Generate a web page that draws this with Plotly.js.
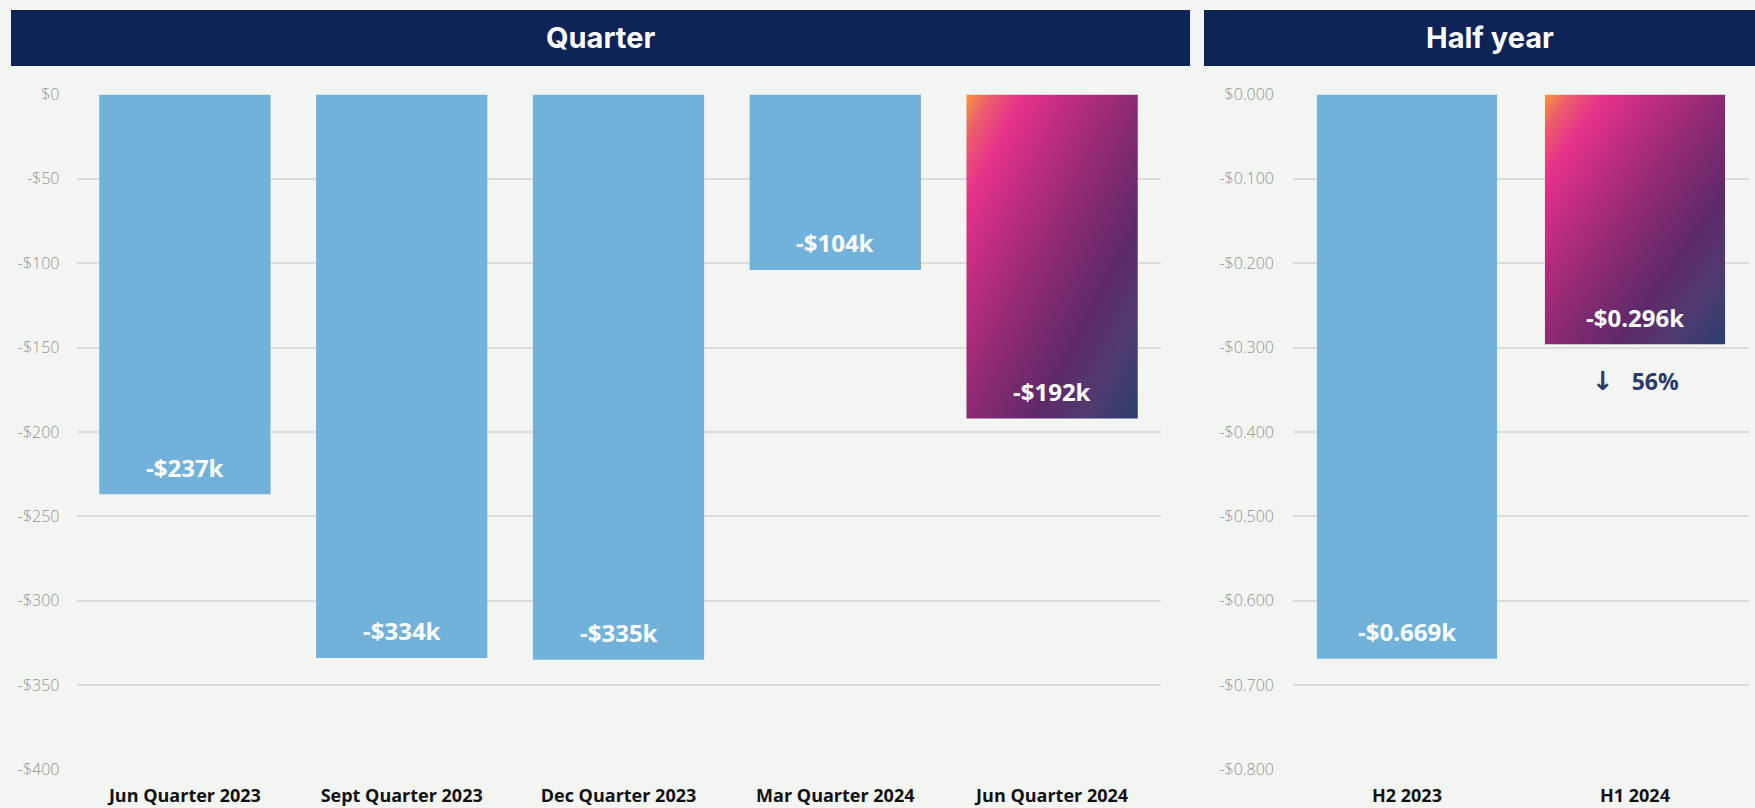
<!DOCTYPE html>
<html>
<head>
<meta charset="utf-8">
<script src="https://cdn.plot.ly/plotly-3.0.1.min.js"></script>
<style>
  html, body { margin: 0; padding: 0; background: #F3F5F2; }
  #chart { width: 1755px; height: 808px; }
</style>
</head>
<body>
<div id="chart"></div>
<script>
// ---- data ----
const quarterCategories = ["Jun Quarter 2023", "Sept Quarter 2023", "Dec Quarter 2023", "Mar Quarter 2024", "Jun Quarter 2024"];
const quarterValues = [-237, -334, -335, -104, -192];
const quarterTickVals = [0, -50, -100, -150, -200, -250, -300, -350, -400];
const quarterTickText = ["$0", "-$50", "-$100", "-$150", "-$200", "-$250", "-$300", "-$350", "-$400"];

const halfCategories = ["H2 2023", "H1 2024"];
const halfValues = [-0.669, -0.296];
const halfTickVals = [0, -0.1, -0.2, -0.3, -0.4, -0.5, -0.6, -0.7, -0.8];
const halfTickText = ["$0.000", "-$0.100", "-$0.200", "-$0.300", "-$0.400", "-$0.500", "-$0.600", "-$0.700", "-$0.800"];
const halfChangeText = "56%";

// ---- styling ----
const W = 1755, H = 808;
const BG = "#F3F5F2";
const BLUE = "#72B2DA";
const NAVY = "#0E2356";
const GRID = "#DCDCDC";

const qLabels = quarterValues.map(v => "-$" + Math.abs(v) + "k");
const hLabels = halfValues.map(v => "-$" + Math.abs(v).toFixed(3) + "k");

const yDomain = [1 - 769.3 / H, 1 - 94.5 / H];

const traces = [
  {
    type: "bar", x: quarterCategories, y: quarterValues, xaxis: "x", yaxis: "y",
    marker: { color: quarterValues.map((v, i) => i === quarterValues.length - 1 ? "#B02B7C" : BLUE), line: { width: 0 } },
    hoverinfo: "skip"
  },
  {
    type: "bar", x: halfCategories, y: halfValues, xaxis: "x2", yaxis: "y2",
    marker: { color: halfValues.map((v, i) => i === halfValues.length - 1 ? "#B02B7C" : BLUE), line: { width: 0 } },
    hoverinfo: "skip"
  }
];

const labelFont = { family: "Open Sans", size: 24, color: "#FFFFFF", weight: 700 };
const annotations = [];
quarterCategories.forEach((c, i) => {
  annotations.push({ xref: "x", yref: "y", x: c, y: quarterValues[i], yshift: 27, text: qLabels[i],
    showarrow: false, font: labelFont });
});
halfCategories.forEach((c, i) => {
  annotations.push({ xref: "x2", yref: "y2", x: c, y: halfValues[i], yshift: 27, text: hLabels[i],
    showarrow: false, font: labelFont });
});
annotations.push({ xref: "x2", yref: "y2", x: halfCategories[1], y: halfValues[1], yshift: -37,
  text: '<span style="font-family:DejaVu Sans;font-size:26px">↓</span>&nbsp;&nbsp;&nbsp;' + halfChangeText, showarrow: false,
  font: { family: "Open Sans", size: 23, color: "#2B3A6B", weight: 700 } });
// headers
const headerFont = { family: "Inter", size: 29, color: "#FFFFFF", weight: 700 };
annotations.push({ xref: "paper", yref: "paper", x: 600.5 / W, y: 1 - 37.5 / H, text: "Quarter",
  showarrow: false, font: headerFont, xanchor: "center", yanchor: "middle" });
annotations.push({ xref: "paper", yref: "paper", x: 1490 / W, y: 1 - 37.5 / H, text: "Half year",
  showarrow: false, font: headerFont, xanchor: "center", yanchor: "middle" });

const shapes = [
  { type: "rect", xref: "paper", yref: "paper", x0: 11 / W, x1: 1190 / W, y0: 1 - 66 / H, y1: 1 - 10 / H,
    fillcolor: NAVY, line: { width: 0 }, layer: "below" },
  { type: "rect", xref: "paper", yref: "paper", x0: 1204 / W, x1: 1, y0: 1 - 66 / H, y1: 1 - 10 / H,
    fillcolor: NAVY, line: { width: 0 }, layer: "below" }
];

const tickFontY = { family: "Open Sans", size: 16, color: "#929292", weight: 300 };
const tickFontX = { family: "Open Sans", size: 18, color: "#111111", weight: 700 };

const layout = {
  width: W, height: H,
  margin: { l: 0, r: 0, t: 0, b: 0 },
  paper_bgcolor: BG, plot_bgcolor: BG,
  showlegend: false,
  bargap: 0.21,
  hovermode: false,
  xaxis: { domain: [76.5 / W, 1160.5 / W], anchor: "y", type: "category", showgrid: false, zeroline: false,
    showline: false, ticks: "", tickfont: tickFontX, ticklabelstandoff: 14, fixedrange: true },
  yaxis: { domain: yDomain, anchor: "x", range: [-400, 0], tickvals: quarterTickVals, ticktext: quarterTickText,
    showgrid: true, gridcolor: GRID, gridwidth: 2, zeroline: false, showline: false, ticks: "",
    tickfont: tickFontY, ticklabelstandoff: 16, fixedrange: true },
  xaxis2: { domain: [1293 / W, 1749 / W], anchor: "y2", type: "category", showgrid: false, zeroline: false,
    showline: false, ticks: "", tickfont: tickFontX, ticklabelstandoff: 14, fixedrange: true },
  yaxis2: { domain: yDomain, anchor: "x2", range: [-0.8, 0], tickvals: halfTickVals, ticktext: halfTickText,
    showgrid: true, gridcolor: GRID, gridwidth: 2, zeroline: false, showline: false, ticks: "",
    tickfont: tickFontY, ticklabelstandoff: 18, fixedrange: true },
  annotations: annotations,
  shapes: shapes
};

const gd = document.getElementById("chart");
Plotly.newPlot(gd, traces, layout, { staticPlot: true, displayModeBar: false }).then(() => {
  const svgNS = "http://www.w3.org/2000/svg";
  const svg = gd.querySelector(".main-svg");
  let defs = svg.querySelector("defs");
  if (!defs) { defs = document.createElementNS(svgNS, "defs"); svg.insertBefore(defs, svg.firstChild); }
  const grad = document.createElementNS(svgNS, "linearGradient");
  grad.setAttribute("id", "barGrad");
  grad.setAttribute("x1", "0"); grad.setAttribute("y1", "0");
  grad.setAttribute("x2", "1"); grad.setAttribute("y2", "1");
  const stops = [
    [0, "#F6973A"], [0.07, "#EC5E6C"], [0.17, "#E5328A"], [0.33, "#B82C7E"],
    [0.52, "#882A72"], [0.7, "#5E2A6A"], [0.84, "#503A6F"], [1, "#2C3F6E"]
  ];
  stops.forEach(([o, c]) => {
    const s = document.createElementNS(svgNS, "stop");
    s.setAttribute("offset", o); s.setAttribute("stop-color", c);
    grad.appendChild(s);
  });
  defs.appendChild(grad);
  const traceGroups = gd.querySelectorAll(".barlayer .trace");
  traceGroups.forEach(tg => {
    const pts = tg.querySelectorAll(".point path");
    if (pts.length) {
      const last = pts[pts.length - 1];
      last.style.fill = "url(#barGrad)";
    }
  });
});
</script>
</body>
</html>
